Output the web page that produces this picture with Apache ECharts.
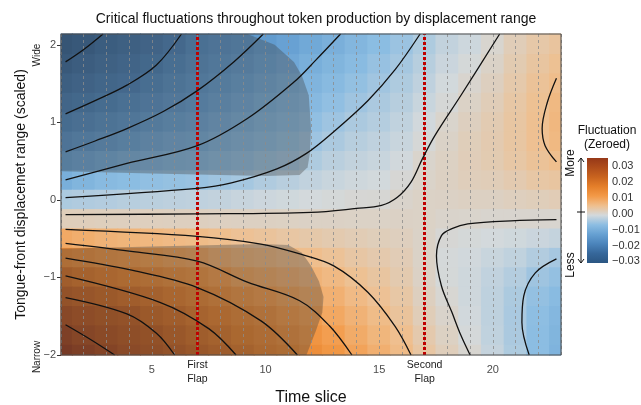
<!DOCTYPE html>
<html>
<head>
<meta charset="utf-8">
<script src="https://cdn.jsdelivr.net/npm/echarts@6.0.0/dist/echarts.min.js"></script>
<style>
  html, body { margin: 0; padding: 0; background: #fff; }
  #chart { width: 641px; height: 405px; }
</style>
</head>
<body>
<div id="chart"></div>
<script>
// surface grid: time slices (x) and scaled displacement rows (y)
const timeSlices = [1, 2, 3, 4, 5, 6, 7, 8, 9, 10, 11, 12, 13, 14, 15, 16, 17, 18, 19, 20, 21, 22, 23];
const displacementRows = [2, 1.75, 1.5, 1.25, 1, 0.75, 0.5, 0.25, 0, -0.25, -0.5, -0.75, -1, -1.25, -1.5, -1.75, -2];

// fluctuation (zeroed), in thousandths, one row per displacement value
const fluct = [
  [-27, -25.4, -23.8, -22.8, -21.7, -20.1, -17.7, -16.4, -15.6, -14.1, -12.7, -11.2, -9.9, -8.4, -7.1, -5.7, -4.1, -2.4, -1.5, 0, 1.8, 3, 3.8],
  [-25, -23.7, -22.4, -21.4, -20.3, -18.3, -16.6, -15.4, -14.2, -12.7, -11.5, -10, -8.7, -7.4, -6.1, -4.9, -3.4, -1.8, -0.7, 0.6, 2.3, 3.6, 4.6],
  [-23, -22, -20.9, -20, -18.4, -16.7, -15.4, -14.1, -12.8, -11.4, -10.2, -8.9, -7.6, -6.4, -5.2, -4.1, -2.7, -1.1, 0.1, 1.2, 2.8, 4.2, 5.3],
  [-21, -20.3, -19.1, -17.8, -16.4, -15.1, -13.9, -12.5, -11.3, -10, -8.9, -7.8, -6.6, -5.4, -4.4, -3.4, -1.9, -0.5, 0.7, 1.8, 3.2, 4.6, 6],
  [-19, -17.9, -16.7, -15.6, -14.3, -13.1, -12.1, -10.9, -9.9, -8.7, -7.7, -6.6, -5.5, -4.4, -3.6, -2.6, -1.2, 0.2, 1.2, 2.2, 3.5, 4.8, 6.3],
  [-16.5, -15.4, -14.2, -13, -11.9, -11, -10.4, -9.2, -8.2, -7.2, -6.4, -5.5, -4.4, -3.4, -2.7, -1.9, -0.5, 0.6, 1.6, 2.4, 3.5, 4.7, 6],
  [-13.5, -12.3, -11.2, -10.2, -9.4, -8.7, -8.2, -7.3, -6.6, -5.8, -5.2, -4.1, -3.1, -2.4, -1.9, -1.2, 0.2, 0.9, 1.7, 2.3, 3.2, 4.2, 5],
  [-10, -8.7, -7.7, -7.1, -6.6, -6.2, -5.9, -5.4, -4.9, -4, -3.3, -2.5, -1.9, -1.4, -1.1, -0.4, 0.5, 1, 1.5, 1.8, 2.4, 3.2, 3.6],
  [-4.3, -4, -3.7, -3.4, -3.1, -2.9, -2.7, -2.4, -2, -1.6, -1.3, -1, -0.7, -0.4, -0.3, 0.3, 0.7, 0.8, 1, 1, 1.3, 1.6, 1.9],
  [1.6, 1.5, 1.4, 1.3, 1.3, 1.2, 1.2, 1.1, 1, 1, 0.9, 0.8, 0.8, 0.7, 0.7, 0.8, 0.7, 0.3, 0.2, 0.1, 0.1, 0.1, 0],
  [8.5, 7.8, 7.1, 6.7, 6.2, 5.8, 5.5, 5, 4.5, 4, 3.4, 2.9, 2.5, 2, 1.6, 1.3, 0.6, -0.4, -0.7, -1, -1.3, -1.8, -2.3],
  [15, 14, 12.8, 11.9, 10.9, 10, 9.4, 8, 7.1, 6.5, 5.8, 5.1, 4.3, 3.3, 2.6, 1.9, 0.6, -0.8, -1.2, -1.9, -2.6, -3.8, -4.8],
  [20.7, 19, 17.7, 16.6, 15.5, 14.2, 13.1, 11.2, 9.6, 8.8, 7.9, 6.9, 5.9, 4.6, 3.6, 2.5, 0.8, -0.7, -1.4, -2.5, -3.6, -5.4, -6.3],
  [25, 23.7, 22.2, 20.7, 19.4, 17.7, 16.2, 14.6, 12.6, 11.2, 10, 8.8, 7.4, 5.8, 4.5, 3.2, 1.2, -0.2, -1.4, -2.8, -4.3, -6.3, -7.5],
  [29, 27.1, 25.9, 25, 22.4, 20.7, 18.7, 17, 15.5, 13.8, 12, 10.5, 8.8, 7.1, 5.5, 4, 1.8, 0.3, -1.2, -2.8, -4.5, -6.8, -8.3],
  [32.5, 30, 28.3, 26.6, 25.3, 22.8, 20.9, 19.2, 17.3, 15.8, 14, 12.1, 10.3, 8.3, 6.5, 4.9, 2.6, 0.9, -0.8, -2.6, -4.4, -7, -8.7],
  [35, 33, 30.5, 28.1, 26.6, 25, 22.8, 21.2, 19.2, 17.2, 16, 13.7, 11.7, 9.5, 7.6, 5.6, 3.4, 1.5, -0.1, -2.2, -4.1, -7, -9]
];

// contour lines, level step 0.005
const levelA = [[1.2, 1.78], [2.0, 1.94], [2.85, 2.14]];
const levelB = [[1.2, 1.11], [2.5, 1.28], [3.9, 1.48], [5.2, 1.74], [6.3, 2.14]];
const levelC = [[1.2, 0.62], [2.5, 0.76], [3.9, 0.92], [5.5, 1.14], [7, 1.41], [8.6, 1.78], [9.9, 2.14]];
const levelD = [[1.2, 0.26], [3.9, 0.47], [7, 0.70], [9.2, 1.05], [11.25, 1.52], [12.2, 1.8], [13.3, 2.14]];
const levelE = [[1.2, 0.03], [7, 0.15], [8.5, 0.22], [10.5, 0.40], [11.8, 0.60], [13, 0.88], [14.5, 1.28], [15.7, 1.68], [16.8, 2.14]];
const levelF = [[1.2, -0.19], [7, -0.18], [12, -0.16], [14, -0.11], [15.1, -0.07], [15.8, 0.035], [16.4, 0.23], [16.9, 0.53], [17.45, 0.83], [18.6, 1.35], [20.3, 2.14]];
const levelG = [[1.2, -0.38], [7, -0.47], [9.8, -0.57], [11.55, -0.70], [13, -0.85], [14.5, -1.19], [15.7, -1.63], [16.4, -2.0]];
const levelH = [[1.2, -0.56], [4, -0.66], [7, -0.79], [9.2, -1.06], [11.5, -1.30], [12.8, -1.62], [13.8, -2.0]];
const levelI = [[1.2, -0.75], [4, -0.9], [7, -1.13], [9.8, -1.56], [11.4, -2.0]];
const levelJ = [[1.2, -0.98], [5.35, -1.32], [7.5, -1.66], [8.7, -2.0]];
const levelK = [[1.2, -1.26], [3.9, -1.47], [5.2, -1.72], [6.0, -2.0]];
const levelL = [[1.2, -1.61], [2.3, -1.8], [3.36, -2.0]];
const levelM = [[22.8, 1.57], [22.4, 1.26], [22.17, 0.92], [22.3, 0.70], [22.8, 0.49]];
const levelN = [[22.8, -0.255], [20.8, -0.27], [18.9, -0.31], [18.2, -0.37], [17.74, -0.46], [17.52, -0.72], [17.74, -1.11], [18.2, -1.45], [18.6, -1.75], [19.0, -2.0]];
const levelO = [[22.8, -0.76], [21.87, -0.94], [21.36, -1.24], [21.28, -1.58], [21.6, -2.0]];

// shaded (significant) regions
const sigWide = [[1, 2.14], [9.2, 2.14], [10.4, 2.0], [11.25, 1.78], [11.6, 1.6], [11.9, 1.35], [12.0, 0.92], [11.95, 0.6], [11.85, 0.42], [11.5, 0.32], [10, 0.31], [5, 0.34], [1, 0.37]];
const sigNarrow = [[1, -0.63], [5, -0.60], [9.8, -0.57], [11.0, -0.58], [11.6, -0.68], [12.0, -0.85], [12.35, -1.05], [12.55, -1.25], [12.5, -1.45], [12.2, -1.7], [12.0, -1.85], [11.8, -2.0], [1, -2.0]];

// flap events
const flapSlices = [7, 17];
const flapNames = { 7: 'First', 17: 'Second' };

// colour scale (thousandths)
const fluctMin = -31, fluctMax = 35;
const fluctColors = ['#2b5682', '#36679a', '#4b84bb', '#66a0d2', '#8cbde2', '#d3d9dc', '#efbf8e', '#f39a48', '#e57f2a', '#c9641f', '#af4d1b', '#963818'];
const legendTicks = [-30, -20, -10, 0, 10, 20, 30];

const xMin = 1, xMax = 23, yMin = -2, yMax = 2.14;
const font = "'Liberation Sans', Arial, Helvetica, sans-serif";

let cells = [];
displacementRows.forEach((y, i) => {
  fluct[i].forEach((v, j) => cells.push([timeSlices[j], y, v]));
});
const half = (displacementRows[0] - displacementRows[1]) / 2;

function renderCell(params, api) {
  const x = api.value(0), y = api.value(1);
  const x0 = Math.max(xMin, x - 0.5), x1 = Math.min(xMax, x + 0.5);
  const y0 = Math.max(yMin, y - half);
  const y1 = y >= displacementRows[0] ? yMax : y + half;
  const p0 = api.coord([x0, y1]), p1 = api.coord([x1, y0]);
  return {
    type: 'rect',
    shape: { x: p0[0] - 0.5, y: p0[1] - 0.5, width: p1[0] - p0[0] + 1, height: p1[1] - p0[1] + 1 },
    style: { fill: api.visual('color') }
  };
}

function polySeries(poly) {
  return {
    type: 'custom', xAxisIndex: 0, yAxisIndex: 0, z: 3, silent: true,
    data: poly,
    renderItem: (params, api) => {
      if (params.dataIndex !== 0) return;
      return {
        type: 'polygon',
        shape: { points: poly.map(p => api.coord(p)) },
        style: { fill: 'rgba(64,64,64,0.35)' }
      };
    }
  };
}

const contours = [levelA, levelB, levelC, levelD, levelE, levelF, levelG, levelH, levelI, levelJ, levelK, levelL, levelM, levelN, levelO];

const minus = v => (v < 0 ? '\u2212' : '') + Math.abs(v);
const legendFmt = v => (v < 0 ? '\u2212' : '') + Math.abs(v / 1000).toFixed(2);

let myChart = echarts.init(document.getElementById('chart'));
myChart.setOption({
  animation: false,
  textStyle: { fontFamily: font },
  title: {
    text: 'Critical fluctuations throughout token production by displacement range',
    left: 311, top: 7, textAlign: 'center',
    textStyle: { fontSize: 14, fontWeight: 'normal', color: '#111', fontFamily: font }
  },
  grid: [
    {
      left: 61, top: 34, width: 500, height: 321, show: true, outerBoundsMode: 'none',
      borderColor: '#4d4d4d', borderWidth: 1, backgroundColor: 'transparent', z: 10
    },
    {
      left: 587, top: 158, width: 21, height: 105, show: true, borderWidth: 0, outerBoundsMode: 'none',
      backgroundColor: new echarts.graphic.LinearGradient(0, 0, 0, 1,
        fluctColors.slice().reverse().map((c, i) => ({ offset: i / (fluctColors.length - 1), color: c })))
    }
  ],
  visualMap: {
    type: 'continuous', show: false, seriesIndex: 0, dimension: 2,
    min: fluctMin, max: fluctMax, inRange: { color: fluctColors }
  },
  xAxis: [
    {
      type: 'value', gridIndex: 0, min: xMin, max: xMax, interval: 1,
      axisLine: { show: false },
      axisTick: { show: true, customValues: [5, 10, 15, 20], length: 4, lineStyle: { color: '#333' } },
      axisLabel: {
        customValues: [5, 7, 10, 15, 17, 20], margin: 3,
        formatter: v => flapNames[v] ? '{f|' + flapNames[v] + '}\n{f|Flap}' : '{n|' + v + '}',
        rich: {
          n: { fontSize: 11, color: '#4d4d4d', fontFamily: font, padding: [6, 0, 0, 0] },
          f: { fontSize: 10.5, color: '#1a1a1a', lineHeight: 14, fontFamily: font }
        }
      },
      splitLine: { show: false },
      name: 'Time slice', nameLocation: 'middle', nameGap: 30,
      nameTextStyle: { fontSize: 16, color: '#111', fontFamily: font }
    },
    { type: 'value', gridIndex: 1, show: false, min: 0, max: 1 },
    {
      type: 'value', gridIndex: 0, position: 'top', min: xMin, max: xMax, interval: 1, z: 4,
      axisLine: { show: false }, axisTick: { show: false }, axisLabel: { show: false },
      splitLine: { show: true, lineStyle: { color: '#8c8c8c', width: 0.8, type: [3, 3] } }
    }
  ],
  yAxis: [
    {
      type: 'value', gridIndex: 0, min: yMin, max: yMax, interval: 1,
      axisLine: { show: false },
      axisTick: { show: true, customValues: [-2, -1, 0, 1, 2], length: 4, lineStyle: { color: '#333' } },
      axisLabel: { customValues: [-2, -1, 0, 1, 2], formatter: minus, fontSize: 11, color: '#4d4d4d', margin: 5 },
      splitLine: { show: false },
      name: 'Tongue-front displacemet range (scaled)', nameLocation: 'middle', nameGap: 33,
      nameTextStyle: { fontSize: 14, color: '#111', fontFamily: font }
    },
    {
      type: 'value', gridIndex: 1, position: 'right', min: fluctMin, max: fluctMax,
      axisLine: { show: false },
      axisTick: { show: true, inside: true, length: 4, customValues: legendTicks, lineStyle: { color: '#fff', width: 1 } },
      axisLabel: { customValues: legendTicks, formatter: legendFmt, fontSize: 11, color: '#333', margin: 4 },
      splitLine: { show: false }
    }
  ],
  graphic: [
    { type: 'text', x: 607, y: 131, style: { text: 'Fluctuation', font: '12px ' + font, fill: '#111', align: 'center', verticalAlign: 'middle' } },
    { type: 'text', x: 607, y: 145, style: { text: '(Zeroed)', font: '12px ' + font, fill: '#111', align: 'center', verticalAlign: 'middle' } },
    { type: 'text', x: 571, y: 163, rotation: Math.PI / 2, style: { text: 'More', font: '12px ' + font, fill: '#111', align: 'center', verticalAlign: 'middle' } },
    { type: 'text', x: 571, y: 265, rotation: Math.PI / 2, style: { text: 'Less', font: '12px ' + font, fill: '#111', align: 'center', verticalAlign: 'middle' } },
    { type: 'line', shape: { x1: 581, y1: 158, x2: 581, y2: 263 }, style: { stroke: '#111', lineWidth: 1 } },
    { type: 'polyline', shape: { points: [[578, 162], [581, 158], [584, 162]] }, style: { stroke: '#111', lineWidth: 1, fill: null } },
    { type: 'polyline', shape: { points: [[578, 259], [581, 263], [584, 259]] }, style: { stroke: '#111', lineWidth: 1, fill: null } },
    { type: 'line', shape: { x1: 577, y1: 212, x2: 585, y2: 212 }, style: { stroke: '#111', lineWidth: 1 } },
    { type: 'text', x: 37, y: 55, rotation: Math.PI / 2, style: { text: 'Wide', font: '10px ' + font, fill: '#222', align: 'center', verticalAlign: 'middle' } },
    { type: 'text', x: 37, y: 357, rotation: Math.PI / 2, style: { text: 'Narrow', font: '10px ' + font, fill: '#222', align: 'center', verticalAlign: 'middle' } }
  ],
  series: [
    {
      type: 'custom', xAxisIndex: 0, yAxisIndex: 0, z: 1, silent: true,
      data: cells, encode: { x: 0, y: 1 }, renderItem: renderCell
    },
    polySeries(sigWide),
    polySeries(sigNarrow)
  ].concat(contours.map(pts => ({
    type: 'line', xAxisIndex: 0, yAxisIndex: 0, data: pts, symbol: 'none', smooth: 0.35,
    lineStyle: { color: '#111', width: 1.3 }, z: 6, silent: true
  }))).concat([{
    type: 'line', xAxisIndex: 0, yAxisIndex: 0, data: [], z: 8,
    markLine: {
      symbol: 'none', silent: true, label: { show: false },
      lineStyle: { color: '#c00000', width: 3, type: [3, 2] },
      data: flapSlices.map(v => ({ xAxis: v }))
    }
  }])
});
</script>
</body>
</html>
